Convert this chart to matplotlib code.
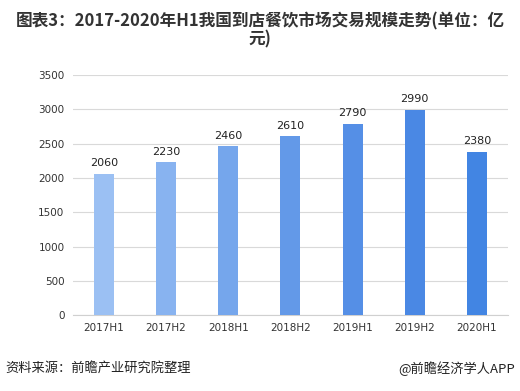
import matplotlib.pyplot as plt

plt.rcParams['font.family'] = ['Noto Sans CJK SC', 'DejaVu Sans']

periodos = ['2017H1', '2017H2', '2018H1', '2018H2', '2019H1', '2019H2', '2020H1']
valores = [2060, 2230, 2460, 2610, 2790, 2990, 2380]
cores = ['#9bc0f3', '#88b3f0', '#75a6ec', '#6399e8', '#558fe6', '#4a88e4', '#4285e3']
yticks = [0, 500, 1000, 1500, 2000, 2500, 3000, 3500]

fig = plt.figure(figsize=(5.2, 3.91), dpi=100)
ax = fig.add_axes([0.140, 0.194, 0.837, 0.614])

x = range(len(periodos))
barras = ax.bar(x, valores, width=0.32, color=cores, zorder=3)

for xi, v in zip(x, valores):
    ax.annotate(str(v), (xi, v), textcoords='offset points', xytext=(0, 4),
                ha='center', va='bottom', fontsize=8, family='DejaVu Sans', color='#222222')

ax.set_xlim(-0.5, len(periodos) - 0.5)
ax.set_ylim(0, 3500)
ax.set_yticks(yticks)
ax.set_xticks(list(x))
ax.set_xticklabels(periodos)
ax.yaxis.grid(True, color='#d9d9d9', linewidth=0.8, zorder=0)
for s in ['top', 'right', 'left']:
    ax.spines[s].set_visible(False)
ax.spines['bottom'].set_color('#d0d0d0')
ax.tick_params(length=0, labelsize=7.5, colors='#333333', pad=6)
for lbl in ax.get_xticklabels() + ax.get_yticklabels():
    lbl.set_family('DejaVu Sans')

fig.text(0.5, 0.922, '图表3：2017-2020年H1我国到店餐饮市场交易规模走势(单位：亿\n元)',
         ha='center', va='center', fontsize=12, fontweight='bold', color='#333333',
         linespacing=0.95)

fig.text(0.01, 0.058, '资料来源：前瞻产业研究院整理', ha='left', va='center', fontsize=9.5, color='#222222')
fig.text(0.99, 0.058, '@前瞻经济学人APP', ha='right', va='center', fontsize=9.5, color='#222222')

fig.savefig('out.png', dpi=100)
